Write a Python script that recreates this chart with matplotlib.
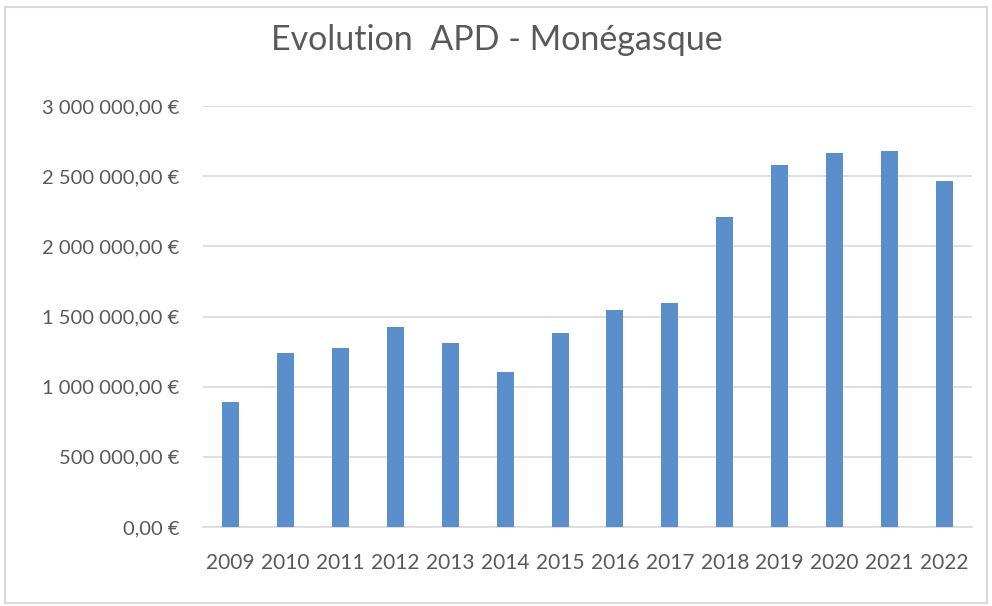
import matplotlib
matplotlib.use("Agg")
import matplotlib.pyplot as plt
from matplotlib.patches import Rectangle
from matplotlib.ticker import FuncFormatter, MultipleLocator

years = ["2009", "2010", "2011", "2012", "2013", "2014", "2015",
         "2016", "2017", "2018", "2019", "2020", "2021", "2022"]
values = [893000, 1238000, 1274000, 1428000, 1309000, 1107000, 1380000,
          1547000, 1594000, 2207000, 2580000, 2663000, 2682000, 2466000]
title = "Evolution  APD - Monégasque"

plt.rcParams['font.family'] = ['Lato', 'DejaVu Sans']

fig = plt.figure(figsize=(9.92, 6.06), dpi=100)
W, H = 992, 606
ax = fig.add_axes([203 / W, 1 - 527 / H, (972 - 203) / W, (527 - 106) / H])

x = range(len(years))
ax.bar(x, values, width=0.31, color="#5A8FCB", zorder=3)
ax.set_xlim(-0.5, len(years) - 0.5)
ax.set_ylim(0, 3000000)
ax.yaxis.set_major_locator(MultipleLocator(500000))

def fmt(v, pos):
    s = f"{v:,.2f}".replace(",", " ").replace(".", ",")
    return s + " €"

ax.yaxis.set_major_formatter(FuncFormatter(fmt))
ax.set_xticks(list(x))
ax.set_xticklabels(years)
ax.grid(axis="y", color="#D9D9D9", linewidth=1.2, zorder=0)
for s in ["top", "right", "left"]:
    ax.spines[s].set_visible(False)
ax.spines["bottom"].set_color("#D9D9D9")
ax.spines["bottom"].set_linewidth(1.2)
ax.tick_params(axis="both", length=0, colors="#595959")
ax.tick_params(axis="y", labelsize=14.5, pad=17)
ax.tick_params(axis="x", labelsize=15, pad=19)

fig.text(497 / W, 1 - 40 / H, title, ha="center", va="center",
         fontsize=24.5, color="#595959")

fig.patches.append(Rectangle((5 / W, 1 - 603 / H), 982 / W, 596 / H,
                             transform=fig.transFigure, fill=False,
                             edgecolor="#D9D9D9", linewidth=1.5))

fig.savefig("out.png", dpi=100, facecolor="white")
